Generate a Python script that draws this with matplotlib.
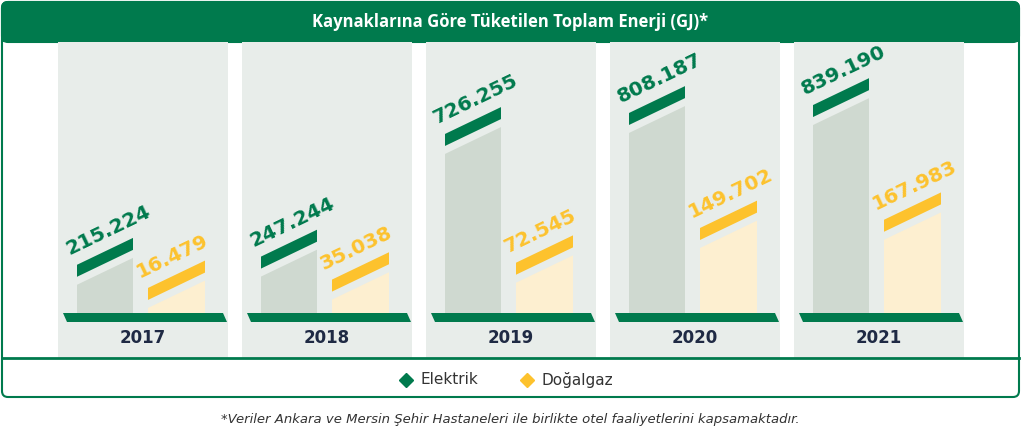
import matplotlib
matplotlib.use("Agg")
import matplotlib.pyplot as plt
from matplotlib.patches import Polygon, Rectangle, FancyBboxPatch

years = ["2017", "2018", "2019", "2020", "2021"]
elektrik = [215224, 247244, 726255, 808187, 839190]
dogalgaz = [16479, 35038, 72545, 149702, 167983]
elek_labels = ["215.224", "247.244", "726.255", "808.187", "839.190"]
gaz_labels = ["16.479", "35.038", "72.545", "149.702", "167.983"]

GREEN = "#007a4d"
YEL = "#fdc22d"
GREY_BAR = "#cfd9d0"
CREAM = "#fdefd0"
PANEL = "#e8edea"
NAVY = "#1f2a44"

fig = plt.figure(figsize=(10.21, 4.29), dpi=100)
ax = fig.add_axes([0, 0, 1, 1])
ax.set_xlim(0, 1021)
ax.set_ylim(429, 0)
ax.axis("off")

# outer frame and title
ax.add_patch(FancyBboxPatch((2, 2), 1017, 395, boxstyle="round,pad=0,rounding_size=6",
                            fc="white", ec=GREEN, lw=1.5))
ax.add_patch(FancyBboxPatch((2, 2), 1017, 40, boxstyle="round,pad=0,rounding_size=6",
                            fc=GREEN, ec=GREEN, lw=1.5))
ax.add_patch(Rectangle((2, 30), 1017, 12, fc=GREEN, ec="none"))
ax.text(510.5, 22, "Kaynaklarına Göre Tüketilen Toplam Enerji (GJ)*", color="white",
        ha="center", va="center", fontsize=12, fontweight="bold", family="Open Sans")

for gy in [68, 150, 232, 313]:
    ax.plot([3, 1018], [gy, gy], color="#eeeeee", lw=1.5, zorder=0)

base = 313
slope = 0.48
for i, yr in enumerate(years):
    x0 = 58 + i * 184
    ax.add_patch(Rectangle((x0, 42), 170, 316, fc=PANEL, ec="none", zorder=1))
    # base strip
    ax.add_patch(Polygon([(x0 + 5, base), (x0 + 165, base), (x0 + 169, base + 9), (x0 + 9, base + 9)],
                         fc=GREEN, ec="none", zorder=3))
    ax.text(x0 + 85, 338, yr, ha="center", va="center", fontsize=12, fontweight="bold",
            color=NAVY, family="DejaVu Sans", zorder=4)
    for val, lab, xl, w, fc, bc, h in [
        (elektrik[i], elek_labels[i], x0 + 19, 56, GREY_BAR, GREEN, elektrik[i] * 0.000256),
        (dogalgaz[i], gaz_labels[i], x0 + 90, 57, CREAM, YEL, 25 + dogalgaz[i] * 0.00045)]:
        xr = xl + w
        ytr = base - h
        ytl = ytr + slope * w
        ax.add_patch(Polygon([(xl, base), (xr, base), (xr, ytr), (xl, min(ytl, base))],
                             fc=fc, ec="none", zorder=2))
        b0r, b0l = ytr - 8, ytl - 8
        ax.add_patch(Polygon([(xl, b0l), (xr, b0r), (xr, b0r - 12), (xl, b0l - 12)],
                             fc=bc, ec="none", zorder=3))
        ax.text(xl - 8, b0l - 22, lab, rotation=25.6, rotation_mode="anchor", ha="left",
                va="baseline", fontsize=14.5, fontweight="bold", color=bc,
                family="DejaVu Sans", zorder=4)

ax.plot([2, 1019], [358, 358], color=GREEN, lw=2, zorder=5)
ax.plot([406], [380], marker="D", ms=7, color=GREEN, ls="none")
ax.text(420, 380, "Elektrik", va="center", fontsize=11, color="#333333")
ax.plot([527], [380], marker="D", ms=7, color=YEL, ls="none")
ax.text(541, 380, "Doğalgaz", va="center", fontsize=11, color="#333333")

ax.text(510.5, 420, "*Veriler Ankara ve Mersin Şehir Hastaneleri ile birlikte otel faaliyetlerini kapsamaktadır.",
        ha="center", va="center", fontsize=9.5, style="italic", color="#333333")

fig.savefig("out.png", dpi=100)
